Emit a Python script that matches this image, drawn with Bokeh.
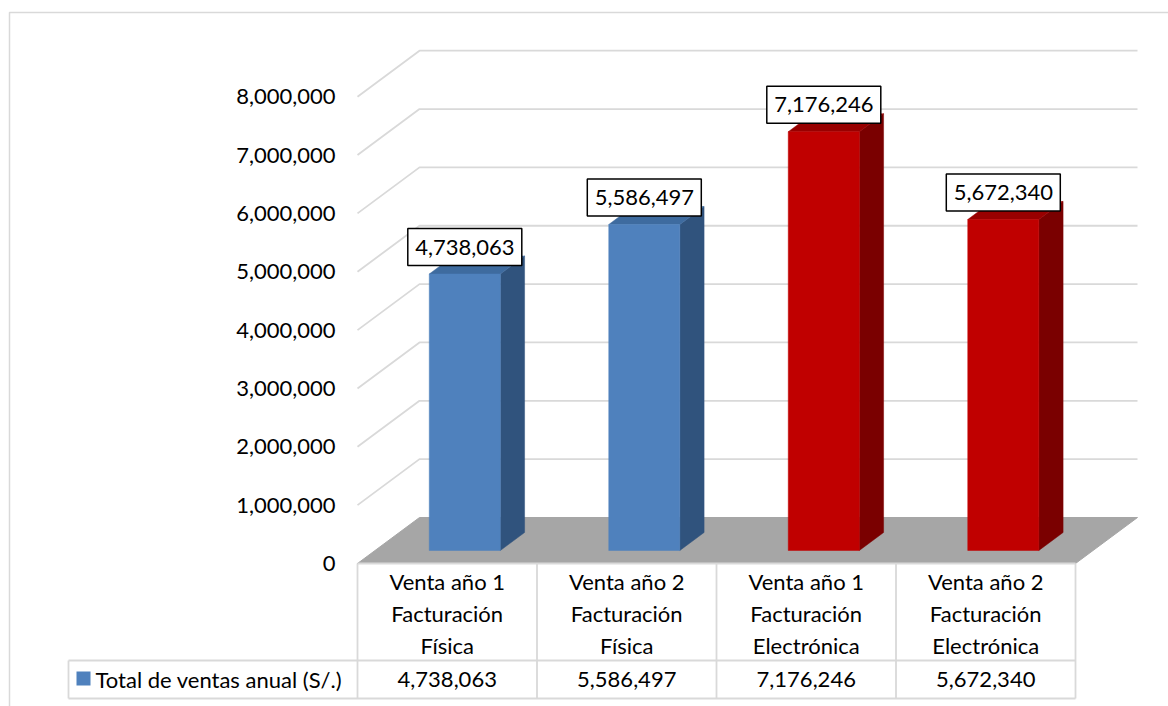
from bokeh.plotting import figure
from bokeh.models import Range1d
from bokeh.embed import file_html
from bokeh.resources import INLINE
from bokeh.core.properties import value

# ---------------- data ----------------
categories = [
    "Venta año 1\nFacturación\nFísica",
    "Venta año 2\nFacturación\nFísica",
    "Venta año 1\nFacturación\nElectrónica",
    "Venta año 2\nFacturación\nElectrónica",
]
ventas = [4738063, 5586497, 7176246, 5672340]
series_name = "Total de ventas anual (S/.)"
y_ticks = [0, 1000000, 2000000, 3000000, 4000000, 5000000, 6000000, 7000000, 8000000]

# ---------------- styles ----------------
front_colors = ["#4F81BD", "#4F81BD", "#C00000", "#C00000"]
top_colors = ["#3E6B9F", "#3E6B9F", "#980000", "#980000"]
side_colors = ["#30537D", "#30537D", "#7A0000", "#7A0000"]
FONT = value("Lato")
FS = "22px"
GRID = "#D9D9D9"

# ---------------- geometry (pixels -> data units) ----------------
W, H = 1168, 706
PAGE = 0
CAT_PX = 179.5          # pixels per category
M_PX = 58.35            # pixels per 1,000,000
ORIGIN_X, ORIGIN_Y = 357, 563   # page position of category 0 / value 0 (front plane)


def dx_px(px):
    return px / CAT_PX


def dy_px(px):
    return px / M_PX * 1e6


def sx(page_x):
    return (page_x - ORIGIN_X) / CAT_PX


def sy(page_y):
    return (ORIGIN_Y - page_y) / M_PX * 1e6


n = len(ventas)
DX, DY = dx_px(62), dy_px(46)      # full depth of the 3-D floor
F_D, B_D = 0.283, 0.674            # bar front/back depth fraction
HW = 0.198                         # half bar width (category units)

p = figure(
    width=W, height=H, output_backend="svg", toolbar_location=None,
    x_range=Range1d(sx(PAGE), sx(PAGE + W)),
    y_range=Range1d(sy(PAGE + H), sy(PAGE)),
    min_border=0, outline_line_color=None,
)
p.xaxis.visible = False
p.yaxis.visible = False
p.xgrid.visible = False
p.ygrid.visible = False
p.background_fill_color = "white"
p.border_fill_color = "white"

# chart border (left & top)
p.line([sx(9), sx(9), sx(PAGE + W)], [sy(PAGE + H), sy(12), sy(12)],
       line_color=GRID, line_width=1.5)

# gridlines: side wall diagonal + back wall
gx, gy = [], []
for t in y_ticks[1:]:
    gx.append([0, DX, n + DX])
    gy.append([t, t + DY, t + DY])
p.multi_line(gx, gy, line_color=GRID, line_width=1.8)

# floor
p.patch([0, n, n + DX, DX], [0, 0, DY, DY], fill_color="#A6A6A6", line_color="#A6A6A6")

# bars
for i, v in enumerate(ventas):
    x0 = i + 0.5 - HW + F_D * DX
    x1 = i + 0.5 + HW + F_D * DX
    y0 = F_D * DY
    ddx = (B_D - F_D) * DX
    ddy = (B_D - F_D) * DY
    # side
    p.patch([x1, x1 + ddx, x1 + ddx, x1], [y0, y0 + ddy, v + y0 + ddy, v + y0],
            fill_color=side_colors[i], line_color=side_colors[i], line_width=0.5)
    # top
    p.patch([x0, x1, x1 + ddx, x0 + ddx], [v + y0, v + y0, v + y0 + ddy, v + y0 + ddy],
            fill_color=top_colors[i], line_color=top_colors[i], line_width=0.5)
    # front
    p.patch([x0, x1, x1, x0], [y0, y0, v + y0, v + y0],
            fill_color=front_colors[i], line_color=front_colors[i], line_width=0.5)

# data labels with box
lab_x = [i + 0.5 + F_D * DX for i in range(n)]
lab_y = [v + F_D * DY + dy_px(27) for v in ventas]
lab_t = [f"{v:,}" for v in ventas]
p.rect(lab_x, lab_y, width=114, height=37, width_units="screen", height_units="screen",
       fill_color="white", line_color="black", line_width=1.5)
p.text(lab_x, lab_y, text=lab_t, text_font=FONT, text_font_size=FS,
       text_align="center", text_baseline="middle", text_color="black")

# y tick labels
p.text([0] * len(y_ticks), y_ticks, text=[f"{t:,}" for t in y_ticks], x_offset=-22,
       text_font=FONT, text_font_size=FS, text_align="right", text_baseline="middle",
       text_color="black")

# data table lines
row_sep = sy(660)
tbl_bot = sy(698)
leg_left = sx(68)
tx = [[0, n], [leg_left, n], [leg_left, n], [leg_left, leg_left]]
ty = [[0, 0], [row_sep, row_sep], [tbl_bot, tbl_bot], [row_sep, tbl_bot]]
for k in range(n + 1):
    tx.append([k, k])
    ty.append([0, tbl_bot])
p.multi_line(tx, ty, line_color=GRID, line_width=1.8)

# header labels
p.text([i + 0.5 for i in range(n)], [sy(613)] * n, text=categories,
       text_font=FONT, text_font_size=FS, text_align="center", text_baseline="middle",
       text_line_height=1.17, text_color="black")

# value row
p.text([i + 0.5 for i in range(n)], [sy(679)] * n, text=lab_t,
       text_font=FONT, text_font_size=FS, text_align="center", text_baseline="middle",
       text_color="black")

# legend key
p.rect([sx(83)], [sy(678)], width=14, height=14, width_units="screen", height_units="screen",
       fill_color=front_colors[0], line_color=None)
p.text([sx(95)], [sy(679)], text=[series_name], text_font=FONT, text_font_size=FS,
       text_align="left", text_baseline="middle", text_color="black")

open("out.html", "w").write(file_html(p, INLINE))
